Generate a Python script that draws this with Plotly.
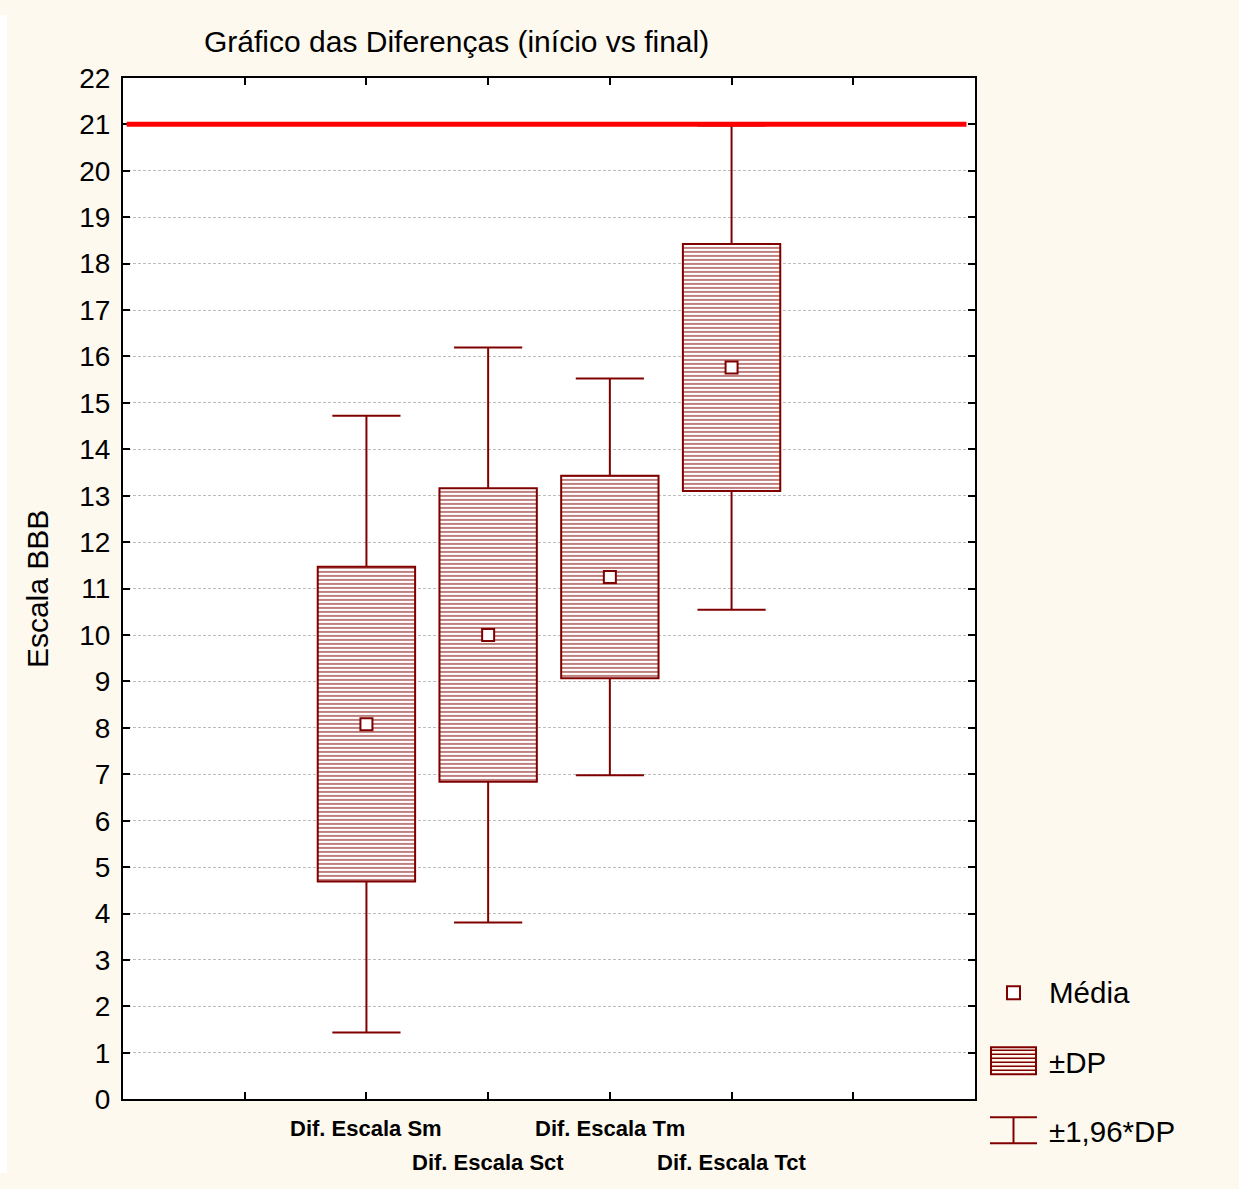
import plotly.graph_objects as go

# Summary statistics for each difference score
categories = ["Dif. Escala Sm", "Dif. Escala Sct", "Dif. Escala Tm", "Dif. Escala Tct"]
means = [8.08, 10.0, 11.25, 15.76]
sds = [3.39, 3.16, 2.18, 2.66]
reference_level = 21          # maximum of the BBB scale
y_ticks = list(range(0, 23))
z = 1.96

W, H = 1239, 1189
ROW0, ROW_SCALE = 15.1, 0.9736   # screen row of the figure top, rows per figure pixel
DARK_RED = "#800000"
CREAM = "#FEF9EF"
FONT = "Liberation Sans, Arial, Helvetica, sans-serif"


def px(x):
    return x / W


def py(y):
    return 1 - ((y - ROW0) / ROW_SCALE) / H


xs = [i + 2 for i in range(len(categories))]
box_lo = [m - s for m, s in zip(means, sds)]
box_hi = [m + s for m, s in zip(means, sds)]
wh_lo = [m - z * s for m, s in zip(means, sds)]
wh_hi = [m + z * s for m, s in zip(means, sds)]

fig = go.Figure()

# ±DP boxes (hatched bars from mean-sd to mean+sd)
fig.add_trace(go.Bar(
    x=xs, y=[h - l for h, l in zip(box_hi, box_lo)], base=box_lo, width=0.8,
    marker=dict(color="white", line=dict(color=DARK_RED, width=2),
                pattern=dict(shape="-", fgcolor=DARK_RED, bgcolor="white",
                             size=4, solidity=0.5, fillmode="overlay")),
    showlegend=False, hoverinfo="skip",
))

# ±1.96*DP whiskers with caps
cap = 0.28
wx, wy = [], []
for x, lo, hi, wl, wh in zip(xs, box_lo, box_hi, wh_lo, wh_hi):
    wx += [x, x, None, x - cap, x + cap, None, x, x, None, x - cap, x + cap, None]
    wy += [hi, wh, None, wh, wh, None, lo, wl, None, wl, wl, None]
fig.add_trace(go.Scatter(x=wx, y=wy, mode="lines",
                         line=dict(color=DARK_RED, width=2),
                         showlegend=False, hoverinfo="skip"))

# Means
fig.add_trace(go.Scatter(
    x=xs, y=means, mode="markers",
    marker=dict(symbol="square", size=12, color="white",
                line=dict(color=DARK_RED, width=2)),
    showlegend=False,
))

shapes = [
    # white strip on the left of the cream panel
    dict(type="rect", xref="paper", yref="paper", x0=0, x1=px(7), y0=0, y1=1,
         fillcolor="white", line=dict(width=0), layer="below"),
    # reference line at the scale maximum
    dict(type="line", xref="x", yref="y", x0=0.03, x1=6.93,
         y0=reference_level, y1=reference_level,
         line=dict(color="#FF0000", width=5)),
]

# Legend: mean marker
shapes.append(dict(type="rect", xref="paper", yref="paper",
                   x0=px(1007), x1=px(1020), y0=py(999), y1=py(986),
                   fillcolor="white", line=dict(color=DARK_RED, width=2)))
# Legend: hatched box
lx0, lx1, ly0, ly1 = 991, 1036, 1047, 1074
yy = ly0 + 3
while yy < ly1 - 1:
    shapes.append(dict(type="line", xref="paper", yref="paper",
                       x0=px(lx0), x1=px(lx1), y0=py(yy), y1=py(yy),
                       line=dict(color=DARK_RED, width=1.6)))
    yy += 4
shapes.append(dict(type="rect", xref="paper", yref="paper",
                   x0=px(lx0), x1=px(lx1), y0=py(ly1), y1=py(ly0),
                   line=dict(color=DARK_RED, width=2)))
# Legend: whisker symbol
for y in (1117, 1143):
    shapes.append(dict(type="line", xref="paper", yref="paper",
                       x0=px(990), x1=px(1037), y0=py(y), y1=py(y),
                       line=dict(color=DARK_RED, width=2)))
shapes.append(dict(type="line", xref="paper", yref="paper",
                   x0=px(1013.5), x1=px(1013.5), y0=py(1117), y1=py(1143),
                   line=dict(color=DARK_RED, width=2)))

annotations = [
    dict(text="Gráfico das Diferenças (início vs final)", xref="paper", yref="paper",
         x=px(456), y=py(42), xanchor="center", yanchor="middle", showarrow=False,
         font=dict(family=FONT, size=30, color="black")),
    dict(text="Escala BBB", xref="paper", yref="paper", x=px(37), y=py(589),
         xanchor="center", yanchor="middle", textangle=-90, showarrow=False,
         font=dict(family=FONT, size=30, color="black")),
]
for i, (x, name) in enumerate(zip(xs, categories)):
    annotations.append(dict(
        text=f"<b>{name}</b>", xref="x", yref="paper", x=x,
        y=py(1128 if i % 2 == 0 else 1162), xanchor="center", yanchor="middle",
        showarrow=False, font=dict(family=FONT, size=22, color="black")))
for text, y in (("Média", 992), ("±DP", 1062), ("±1,96*DP", 1131)):
    annotations.append(dict(text=text, xref="paper", yref="paper", x=px(1047),
                            y=py(y), xanchor="left", yanchor="middle", showarrow=False,
                            font=dict(family=FONT, size=29.5, color="black")))

fig.update_layout(
    width=W, height=H,
    margin=dict(l=0, r=0, t=0, b=0, pad=0),
    paper_bgcolor=CREAM, plot_bgcolor="white",
    shapes=shapes, annotations=annotations,
    showlegend=False,
    xaxis=dict(domain=[px(123), px(975)], range=[0, 7], tickvals=[1, 2, 3, 4, 5, 6],
               showticklabels=False, ticks="inside", ticklen=7, tickwidth=2,
               tickcolor="black", showline=True, linecolor="black", linewidth=2,
               mirror="ticks", showgrid=False, zeroline=False, fixedrange=True),
    yaxis=dict(domain=[py(1099), py(78)], range=[0, 22], tickvals=y_ticks,
               ticks="inside", ticklen=7, tickwidth=2, tickcolor="black",
               showline=True, linecolor="black", linewidth=2, mirror="ticks",
               showgrid=True, gridcolor="#BDBDBD", gridwidth=1, griddash="3px,2px",
               zeroline=False, ticklabelstandoff=5,
               tickfont=dict(family=FONT, size=28, color="black"),
               fixedrange=True),
)

fig.write_html("out.html")
